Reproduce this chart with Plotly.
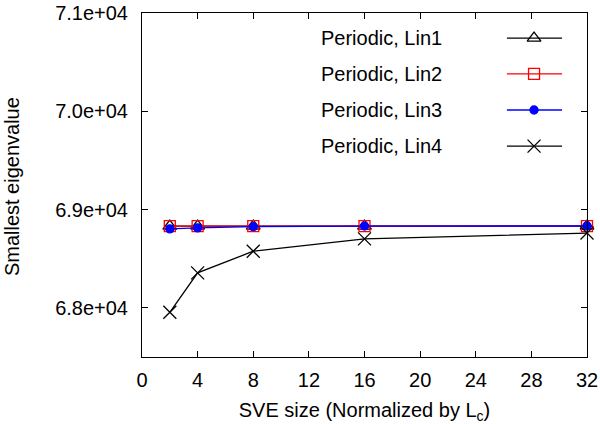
import plotly.graph_objects as go

# ---- data ----
sve_size = [2, 4, 8, 16, 32]
lin1 = [68832, 68832, 68832, 68832, 68832]
lin2 = [68831, 68831, 68832, 68832, 68832]
lin3 = [68804, 68814, 68826, 68832, 68833]
lin4 = [67955, 68356, 68576, 68702, 68761]
series_names = ["Periodic, Lin1", "Periodic, Lin2", "Periodic, Lin3", "Periodic, Lin4"]

x_ticks = [0, 4, 8, 12, 16, 20, 24, 28, 32]
y_ticks = [68000, 69000, 70000, 71000]
y_ticktext = ["6.8e+04", "6.9e+04", "7.0e+04", "7.1e+04"]

FONT = "Liberation Sans, Arial, Helvetica, sans-serif"
FS = 20

styles = [
    dict(color="black", symbol="triangle-up-open", size=12, lw=1.3),
    dict(color="#ff0000", symbol="square-open", size=11, lw=1.3),
    dict(color="#0000ff", symbol="circle", size=8, lw=1.3),
    dict(color="black", symbol="x-thin-open", size=13, lw=1.3),
]
series = [lin1, lin2, lin3, lin4]

fig = go.Figure()
for name, ys, st in zip(series_names, series, styles):
    fig.add_trace(go.Scatter(
        x=sve_size, y=ys, mode="lines+markers", name=name,
        line=dict(color=st["color"], width=st["lw"]),
        marker=dict(symbol=st["symbol"], size=st["size"], color=st["color"],
                    line=dict(color=st["color"], width=1.3)),
        showlegend=False, cliponaxis=False,
    ))

# ---- manual gnuplot-style legend (key samples on a hidden overlay axis) ----
key_y = [0.927, 0.823, 0.718, 0.613]
key_x0, key_xm, key_x1 = 0.820, 0.881, 0.944
key_text_x = 0.679
for name, ky, st in zip(series_names, key_y, styles):
    fig.add_trace(go.Scatter(
        x=[key_x0, key_x1], y=[ky, ky], mode="lines",
        line=dict(color=st["color"], width=st["lw"]),
        xaxis="x2", yaxis="y2", showlegend=False, hoverinfo="skip",
    ))
    fig.add_trace(go.Scatter(
        x=[key_xm], y=[ky], mode="markers",
        marker=dict(symbol=st["symbol"], size=st["size"], color=st["color"],
                    line=dict(color=st["color"], width=1.3)),
        xaxis="x2", yaxis="y2", showlegend=False, hoverinfo="skip",
    ))
    fig.add_annotation(x=key_text_x, y=ky, xref="paper", yref="paper",
                       text=name, showarrow=False, xanchor="right", yanchor="middle",
                       font=dict(family=FONT, size=FS, color="black"))

# y-axis title placed like gnuplot (near the left edge)
fig.add_annotation(x=-0.292, y=0.494, xref="paper", yref="paper",
                   text="Smallest eigenvalue", textangle=-90, showarrow=False,
                   xanchor="center", yanchor="middle",
                   font=dict(family=FONT, size=FS, color="black"))

axis_common = dict(showline=True, linecolor="black", linewidth=1, mirror="ticks",
                   ticks="inside", ticklen=6, tickwidth=1, tickcolor="black",
                   showgrid=False, zeroline=False, automargin=False,
                   tickfont=dict(family=FONT, size=FS, color="black"))

fig.update_layout(
    width=600, height=424,
    margin=dict(l=142, r=13, t=13, b=67),
    paper_bgcolor="white", plot_bgcolor="white",
    font=dict(family=FONT, size=FS, color="black"),
    xaxis=dict(range=[0, 32], tickvals=x_ticks, ticklabelstandoff=5,
               title=dict(text="SVE size (Normalized by L<sub>c</sub>)",
                          font=dict(family=FONT, size=FS)),
               **axis_common),
    yaxis=dict(range=[67500, 71000], tickvals=y_ticks, ticktext=y_ticktext,
               ticklabelstandoff=9, **axis_common),
    xaxis2=dict(range=[0, 1], overlaying="x", visible=False, fixedrange=True),
    yaxis2=dict(range=[0, 1], overlaying="y", visible=False, fixedrange=True),
)

fig.write_html("out.html", config={"displayModeBar": False},
               post_script="document.body.style.margin='0';document.body.style.overflow='hidden';")
